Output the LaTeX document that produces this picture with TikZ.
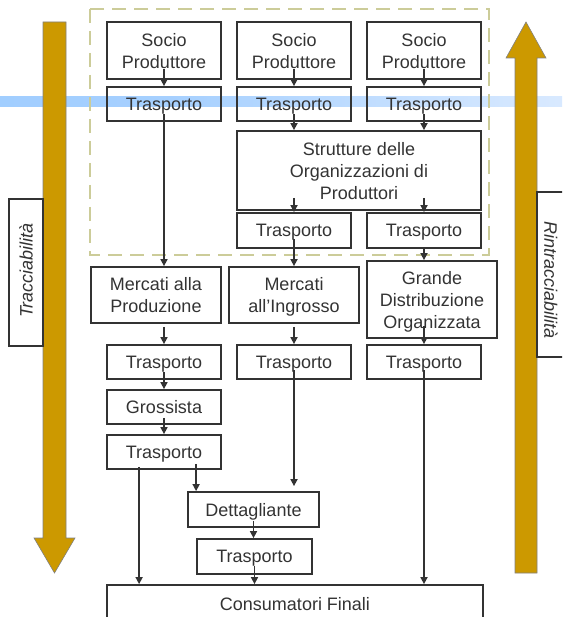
\documentclass[tikz,border=0pt]{standalone}
\usepackage{fontspec}
\setmainfont{Liberation Sans}
\usetikzlibrary{arrows.meta,calc}
\definecolor{gold}{HTML}{CC9900}
\definecolor{dashc}{HTML}{CCCC99}
\definecolor{ink}{HTML}{333333}
\definecolor{bandA}{HTML}{99CAFF}
\definecolor{bandB}{HTML}{A6D0FF}
\definecolor{bandC}{HTML}{D2E6FF}
\definecolor{bandD}{HTML}{F8FAFF}
\pgfdeclarehorizontalshading{bandshade}{100bp}{color(0bp)=(bandA); color(40bp)=(bandB); color(70bp)=(bandC); color(100bp)=(bandD)}
\begin{document}
\begin{tikzpicture}[x=1pt,y=-1pt,
 box/.style={draw=ink, line width=1.8pt, text=ink, align=center, inner sep=0pt, text depth=0pt, font=\fontsize{18}{22}\selectfont},
 arr/.style={draw=ink, line width=1.6pt, -{Triangle[length=7pt,width=7pt]}},
 bigarrow/.style={fill=gold, draw=gray, line width=0.6pt},
 sidebox/.style={draw=ink, line width=1.2pt, fill=white},
 sidetext/.style={text=ink, font=\fontsize{18}{22}\selectfont\itshape, inner sep=0pt}
]
\useasboundingbox (0,0) rectangle (562,617);
\clip (0,0) rectangle (562,617);

% blue band
\shade[shading=bandshade] (0,97) rectangle (562,107);

% dashed group
\draw[dashc, line width=2.5pt, dash pattern=on 14pt off 8pt] (90,9) rectangle (489,255);

% big arrows
\draw[bigarrow] (43,22) -- (66,22) -- (66,538) -- (75,538) -- (54.5,573) -- (34,538) -- (43,538) -- cycle;
\draw[bigarrow] (515,573) -- (515,58) -- (506,58) -- (526,22) -- (546,58) -- (537,58) -- (537,573) -- cycle;

% side labels
\node[sidebox, minimum width=34pt, minimum height=147pt, inner sep=0pt] (lbox) at (26,272.5) {};
\node[sidetext, rotate=90] (ltext) at (26,270.5) {Tracciabilità};
\node[sidebox, minimum width=40pt, minimum height=165pt, inner sep=0pt] (rbox) at (557,274.5) {};
\node[sidetext, rotate=-90] (rtext) at (551,280) {Rintracciabilità};

% nodes
\node[box, minimum width=114pt, minimum height=57pt] (soc1) at (164,50.5) {Socio\\Produttore};
\node[box, minimum width=114pt, minimum height=57pt] (soc2) at (294,50.5) {Socio\\Produttore};
\node[box, minimum width=114pt, minimum height=57pt] (soc3) at (424,50.5) {Socio\\Produttore};
\node[box, minimum width=114pt, minimum height=34pt] (tr1) at (164,104) {Trasporto};
\node[box, minimum width=114pt, minimum height=34pt] (tr2) at (294,104) {Trasporto};
\node[box, minimum width=114pt, minimum height=34pt] (tr3) at (424,104) {Trasporto};
\node[box, minimum width=244pt, minimum height=79pt] (strut) at (359,170.5) {Strutture delle\\Organizzazioni di\\Produttori};
\node[box, minimum width=114pt, minimum height=35pt] (tr4) at (294,230.5) {Trasporto};
\node[box, minimum width=114pt, minimum height=35pt] (tr5) at (424,230.5) {Trasporto};
\node[box, minimum width=130pt, minimum height=56pt] (merP) at (156,295) {Mercati alla\\Produzione};
\node[box, minimum width=130pt, minimum height=56pt] (merI) at (294,295) {Mercati\\all’Ingrosso};
\node[box, minimum width=130pt, minimum height=77pt] (gdo) at (432,299.5) {Grande\\Distribuzione\\Organizzata};
\node[box, minimum width=114pt, minimum height=34pt] (tr6) at (164,362) {Trasporto};
\node[box, minimum width=114pt, minimum height=34pt] (tr7) at (294,362) {Trasporto};
\node[box, minimum width=114pt, minimum height=34pt] (tr8) at (424,362) {Trasporto};
\node[box, minimum width=114pt, minimum height=34pt] (gross) at (164,407) {Grossista};
\node[box, minimum width=114pt, minimum height=34pt] (tr9) at (164,452) {Trasporto};
\node[box, minimum width=131pt, minimum height=35pt] (dett) at (253.5,509.5) {Dettagliante};
\node[box, minimum width=115pt, minimum height=35pt] (trL) at (254.5,556.5) {Trasporto};
\node[box, minimum width=376pt, minimum height=38pt] (cons) at (295,604) {Consumatori Finali};

% connectors
\draw[arr] ($(soc1.south)+(0,-11)$) -- (tr1.north);
\draw[arr] ($(soc2.south)+(0,-11)$) -- (tr2.north);
\draw[arr] ($(soc3.south)+(0,-11)$) -- (tr3.north);
\draw[arr] ($(tr2.south)+(0,-8)$) -- (tr2 |- strut.north);
\draw[arr] ($(tr3.south)+(0,-8)$) -- (tr3 |- strut.north);
\draw[arr] ($(tr1.south)+(0,-8)$) -- (tr1 |- merP.north);
\draw[arr] ($(tr4 |- strut.south)+(0,-13)$) -- (tr4.north);
\draw[arr] ($(tr5 |- strut.south)+(0,-13)$) -- (tr5.north);
\draw[arr] ($(tr4.south)+(0,-10)$) -- (tr4 |- merI.north);
\draw[arr] (tr5.south) -- (tr5 |- gdo.north);
\draw[arr] ($(tr6 |- merP.south)+(0,3)$) -- (tr6.north);
\draw[arr] ($(tr7 |- merI.south)+(0,3)$) -- (tr7.north);
\draw[arr] ($(tr8 |- gdo.south)+(0,-13)$) -- (tr8.north);
\draw[arr] ($(tr6.south)+(0,-8)$) -- (gross.north);
\draw[arr] ($(gross.south)+(0,-7)$) -- (tr9.north);
\draw[arr] ($(tr7.south)+(0,-10)$) -- ($(tr7 |- dett.north)+(0,-5)$);
\draw[arr] ($(tr8.south)+(0,-10)$) -- (tr8 |- cons.north);
\coordinate (c1) at ($(tr9.south west)+(33,-3)$);
\draw[arr] (c1) -- (c1 |- cons.north);
\coordinate (c2) at ($(tr9.south west)+(90,-6)$);
\draw[arr] (c2) -- (c2 |- dett.north);
\draw[arr] ($(dett.south)+(0,-7)$) -- (dett |- trL.north);
\draw[arr] ($(trL.south)+(0,-9)$) -- (trL |- cons.north);
\end{tikzpicture}
\end{document}
